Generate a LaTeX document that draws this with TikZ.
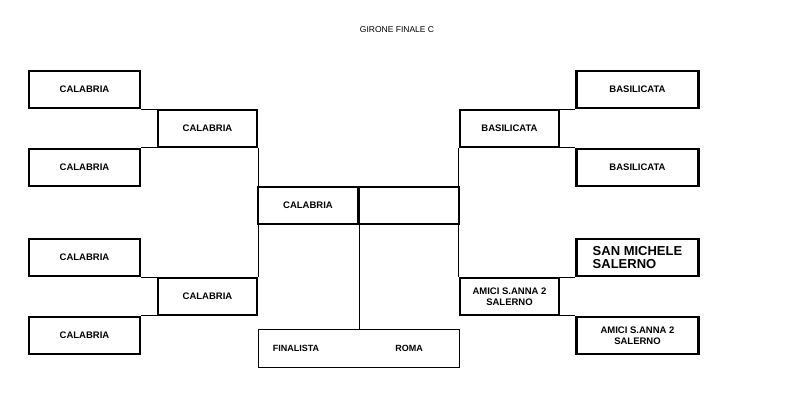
\documentclass[tikz,border=0pt]{standalone}
\usepackage{fontspec}
\setmainfont{Liberation Sans}
\usetikzlibrary{positioning}
\tikzset{
    team/.style={draw, line width=2.6pt, minimum width=111pt, minimum height=37pt, font=\fontsize{9.5}{10.5}\selectfont\bfseries, align=center, inner sep=1pt},
    mid/.style={team, minimum width=99pt},
    link/.style={draw, line width=0.6pt}
}
\begin{document}
\begin{tikzpicture}[x=1pt, y=-1pt]
    \useasboundingbox (0,0) rectangle (788,418);
    \node[font=\fontsize{8.5}{9}\selectfont] (title) at (397,30) {GIRONE FINALE C};

    % Left side
    \node[team] (l1) at (84.5,89.5) {CALABRIA};
    \node[team] (l2) at (84.5,167.5) {CALABRIA};
    \node[team] (l3) at (84.5,257.5) {CALABRIA};
    \node[team] (l4) at (84.5,335.5) {CALABRIA};
    \node[mid] (m1) at (207.5,128.5) {CALABRIA};
    \node[mid] (m2) at (207.5,296.5) {CALABRIA};

    % Right side
    \node[team, minimum width=122pt] (r1) at (637.5,89.5) {BASILICATA};
    \node[team, minimum width=122pt] (r2) at (637.5,167.5) {BASILICATA};
    \node[team, minimum width=122pt, font=\fontsize{13}{13.5}\selectfont\bfseries, align=left] (r3) at (637.5,257.5) {SAN MICHELE\\SALERNO};
    \node[team, minimum width=122pt] (r4) at (637.5,335.5) {AMICI S.ANNA 2\\SALERNO};
    \node[mid] (n1) at (509.5,128.5) {BASILICATA};
    \node[mid] (n2) at (509.5,296.5) {AMICI S.ANNA 2\\SALERNO};

    % Centre
    \node[team, minimum width=100pt] (fl) at (308,205.5) {CALABRIA};
    \node[team, minimum width=100pt] (fr) at (409,205.5) {};
    \node[draw, line width=0.6pt, minimum width=201pt, minimum height=38pt] (fin) at (358.5,348) {};
    \node[font=\fontsize{9}{10}\selectfont\bfseries] (finl) at (296,348) {FINALISTA};
    \node[font=\fontsize{9}{10}\selectfont\bfseries] (finr) at (409,348) {ROMA};

    % Connectors
    \draw[link] (l1.south east) -- (l1.south east -| m1.west);
    \draw[link] (l2.north east) -- (l2.north east -| m1.west);
    \draw[link] (l3.south east) -- (l3.south east -| m2.west);
    \draw[link] (l4.north east) -- (l4.north east -| m2.west);
    \draw[link] (r1.south west) -- (r1.south west -| n1.east);
    \draw[link] (r2.north west) -- (r2.north west -| n1.east);
    \draw[link] (r3.south west) -- (r3.south west -| n2.east);
    \draw[link] (r4.north west) -- (r4.north west -| n2.east);
    \draw[link] (m1.south east) -- (m1.south east |- fl.north);
    \draw[link] (m2.north east) -- (m2.north east |- fl.south);
    \draw[link] (n1.south west) -- (n1.south west |- fr.north);
    \draw[link] (n2.north west) -- (n2.north west |- fr.south);
    \draw[link] (fl.south east) -- (fl.south east |- fin.north);
\end{tikzpicture}
\end{document}
